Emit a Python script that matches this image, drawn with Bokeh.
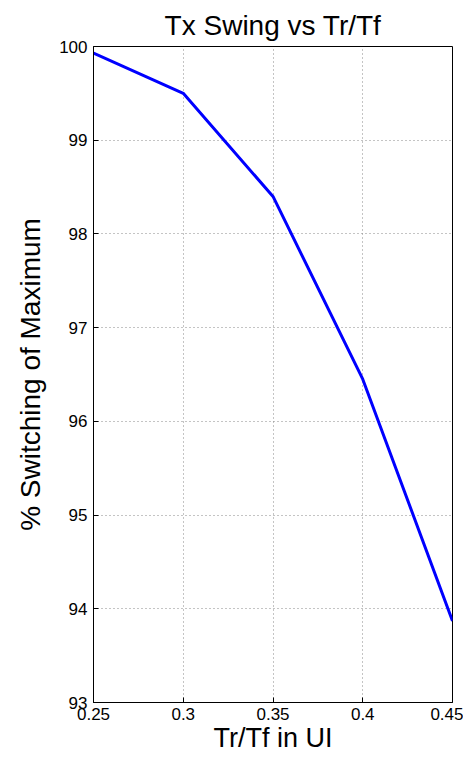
from bokeh.plotting import figure
from bokeh.embed import file_html
from bokeh.resources import INLINE
from bokeh.models import FixedTicker, Range1d

x_vals = [0.25, 0.30, 0.35, 0.40, 0.45]
y_vals = [99.93, 99.50, 98.40, 96.45, 93.87]
x_ticks = [0.25, 0.3, 0.35, 0.4, 0.45]
y_ticks = [93, 94, 95, 96, 97, 98, 99, 100]
x_tick_labels = {0.25: "0.25", 0.3: "0.3", 0.35: "0.35", 0.4: "0.4", 0.45: "0.45"}

FONT = "Liberation Sans"

p = figure(width=463, height=756, output_backend="svg", toolbar_location=None,
           x_range=Range1d(0.25, 0.45), y_range=Range1d(93, 100),
           title="Tx Swing vs Tr/Tf",
           min_border_left=93, min_border_right=11, min_border_top=46, min_border_bottom=54)

p.line(x_vals, y_vals, line_color="#0000ff", line_width=3)

p.title.align = "center"
p.title.text_font = FONT
p.title.text_font_size = "28px"
p.title.text_font_style = "normal"
p.title.text_color = "black"
p.title.standoff = 12
p.title.offset = 0

p.xaxis.ticker = FixedTicker(ticks=x_ticks)
p.yaxis.ticker = FixedTicker(ticks=y_ticks)
p.xaxis.major_label_overrides = x_tick_labels
p.xaxis.axis_label = "Tr/Tf in UI"
p.yaxis.axis_label = "% Switching of Maximum"

for ax in (p.xaxis, p.yaxis):
    ax.axis_label_text_font = FONT
    ax.axis_label_text_font_style = "normal"
    ax.axis_label_text_color = "black"
    ax.major_label_text_font = FONT
    ax.major_label_text_font_size = "17px"
    ax.major_label_text_color = "black"
    ax.axis_line_color = "black"
    ax.major_tick_line_color = "black"
    ax.major_tick_in = 5
    ax.major_tick_out = 0
    ax.minor_tick_line_color = None

p.xaxis.axis_label_text_font_size = "27px"
p.yaxis.axis_label_text_font_size = "28px"
p.xaxis.major_label_standoff = 5
p.xaxis.axis_label_standoff = 0
p.yaxis.major_label_standoff = 6
p.yaxis.axis_label_standoff = 10

p.grid.grid_line_color = "#888888"
p.grid.grid_line_dash = "1 3"
p.grid.grid_line_width = 1

p.outline_line_color = "black"
p.outline_line_width = 1
p.background_fill_color = "white"
p.border_fill_color = "white"

open("out.html", "w").write(file_html(p, INLINE))
